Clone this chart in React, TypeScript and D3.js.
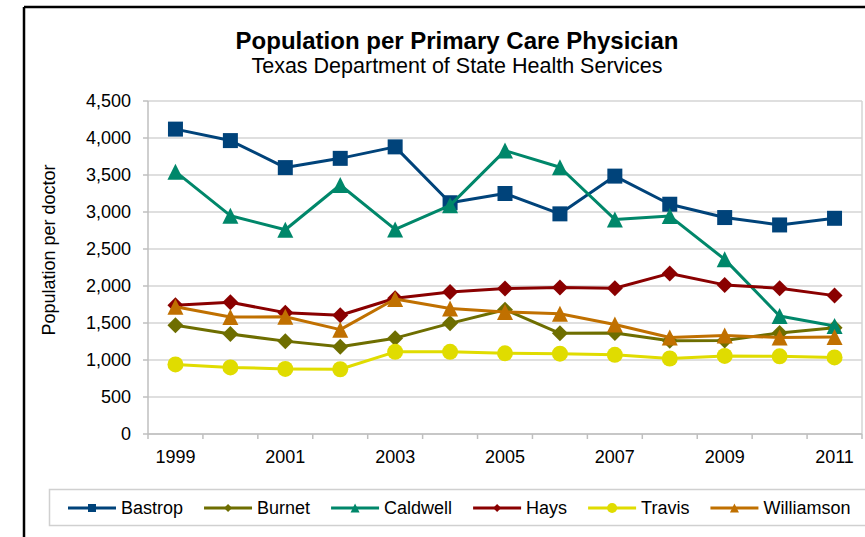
import React, { useMemo } from 'react';
import * as d3 from 'd3';

const years = ['1999', '2000', '2001', '2002', '2003', '2004', '2005', '2006', '2007', '2008', '2009', '2010', '2011'];
const yTicks = [0, 500, 1000, 1500, 2000, 2500, 3000, 3500, 4000, 4500];

const bastrop = [4120, 3965, 3600, 3725, 3880, 3125, 3250, 2975, 3485, 3105, 2925, 2825, 2915];
const burnet = [1470, 1350, 1255, 1180, 1295, 1495, 1680, 1360, 1365, 1260, 1265, 1365, 1435];
const caldwell = [3545, 2950, 2760, 3365, 2765, 3090, 3830, 3605, 2900, 2945, 2360, 1595, 1460];
const hays = [1740, 1780, 1640, 1605, 1835, 1920, 1965, 1980, 1970, 2170, 2015, 1970, 1870];
const travis = [940, 900, 880, 875, 1110, 1110, 1090, 1085, 1070, 1020, 1055, 1050, 1035];
const williamson = [1720, 1580, 1585, 1410, 1825, 1695, 1650, 1625, 1480, 1305, 1330, 1305, 1310];

type Shape = 'square' | 'diamond' | 'triangle' | 'circle';

const series: { name: string; values: number[]; color: string; shape: Shape }[] = [
  { name: 'Bastrop', values: bastrop, color: '#00437a', shape: 'square' },
  { name: 'Burnet', values: burnet, color: '#6e6e00', shape: 'diamond' },
  { name: 'Caldwell', values: caldwell, color: '#00876a', shape: 'triangle' },
  { name: 'Hays', values: hays, color: '#8a0000', shape: 'diamond' },
  { name: 'Travis', values: travis, color: '#e0dc00', shape: 'circle' },
  { name: 'Williamson', values: williamson, color: '#c07000', shape: 'triangle' }
];

const FONT = '"Liberation Sans", Arial, sans-serif';

// marker path centred on 0,0 (s = full size)
const markerPath = (shape: Shape, s: number) => {
  const h = s / 2;
  if (shape === 'square') return `M${-h},${-h}H${h}V${h}H${-h}Z`;
  if (shape === 'diamond') return `M0,${-h}L${h},0L0,${h}L${-h},0Z`;
  if (shape === 'triangle') return `M0,${-h}L${h},${h}L${-h},${h}Z`;
  const p = d3.path();
  p.arc(0, 0, h, 0, Math.PI * 2);
  return p.toString();
};

const markerSize: Record<Shape, number> = { square: 15, diamond: 16, triangle: 16, circle: 16 };
const legendMarkerSize: Record<Shape, number> = { square: 8, diamond: 8, triangle: 9, circle: 10 };

const App: React.FC = () => {
  const width = 865;
  const height = 537;
  const plot = { left: 148, right: 862, top: 101, bottom: 434 };

  const x = d3.scaleBand<string>().domain(years).range([plot.left, plot.right]);
  const y = d3.scaleLinear().domain([0, 4500]).range([plot.bottom, plot.top]);
  const cx = (yr: string) => (x(yr) as number) + x.bandwidth() / 2;

  const fmt = d3.format(',');

  const line = d3
    .line<number>()
    .x((_, i) => cx(years[i]))
    .y(d => y(d));

  // legend layout from measured text widths
  const legendItems = useMemo(() => {
    const ctx = document.createElement('canvas').getContext('2d');
    let pos = 68;
    return series.map(s => {
      let w = s.name.length * 9;
      if (ctx) {
        ctx.font = `18px ${FONT}`;
        w = ctx.measureText(s.name).width;
      }
      const item = { ...s, x: pos };
      pos += 48 + 5 + w + 21;
      return item;
    });
  }, []);

  return (
    <svg
      width={width}
      height={height}
      style={{ position: 'absolute', left: 0, top: 0, background: '#fff' }}
      fontFamily={FONT}
    >
      {/* outer frame */}
      <line x1={24} y1={7} x2={width} y2={7} stroke="#000" strokeWidth={2.5} />
      <line x1={24} y1={7} x2={24} y2={height} stroke="#000" strokeWidth={2.5} />

      {/* titles */}
      <text x={457} y={49} textAnchor="middle" fontSize={24} fontWeight="bold" fill="#000">
        Population per Primary Care Physician
      </text>
      <text x={457} y={73} textAnchor="middle" fontSize={21.5} fill="#000">
        Texas Department of State Health Services
      </text>

      {/* gridlines */}
      {yTicks.map(t => (
        <line key={t} x1={plot.left} x2={plot.right} y1={y(t)} y2={y(t)} stroke="#d4d4d4" strokeWidth={1.5} />
      ))}
      <line x1={plot.right} x2={plot.right} y1={plot.top} y2={plot.bottom} stroke="#d4d4d4" strokeWidth={1.5} />

      {/* y axis */}
      <line x1={plot.left} x2={plot.left} y1={plot.top} y2={plot.bottom} stroke="#bfbfbf" strokeWidth={1.5} />
      {yTicks.map(t => (
        <g key={t}>
          <line x1={plot.left - 5} x2={plot.left} y1={y(t)} y2={y(t)} stroke="#bfbfbf" strokeWidth={1.5} />
          <text x={131} y={y(t)} dy="0.35em" textAnchor="end" fontSize={18} fill="#000">
            {fmt(t)}
          </text>
        </g>
      ))}
      <text
        transform={`translate(49,250) rotate(-90)`}
        textAnchor="middle"
        dy="0.35em"
        fontSize={18}
        fill="#000"
      >
        Population per doctor
      </text>

      {/* x axis */}
      <line x1={plot.left} x2={plot.right} y1={plot.bottom} y2={plot.bottom} stroke="#bfbfbf" strokeWidth={1.5} />
      {years.map(yr => (
        <line
          key={yr}
          x1={x(yr) as number}
          x2={x(yr) as number}
          y1={plot.bottom}
          y2={plot.bottom + 5}
          stroke="#bfbfbf"
          strokeWidth={1.5}
        />
      ))}
      <line x1={plot.right} x2={plot.right} y1={plot.bottom} y2={plot.bottom + 5} stroke="#bfbfbf" strokeWidth={1.5} />
      {years.map((yr, i) =>
        i % 2 === 0 ? (
          <text key={yr} x={cx(yr)} y={463} textAnchor="middle" fontSize={18} fill="#000">
            {yr}
          </text>
        ) : null
      )}

      {/* series */}
      {series.map(s => (
        <g key={s.name}>
          <path d={line(s.values) || ''} fill="none" stroke={s.color} strokeWidth={3} strokeLinejoin="round" />
          {s.values.map((v, i) => (
            <path
              key={i}
              d={markerPath(s.shape, markerSize[s.shape])}
              transform={`translate(${cx(years[i])},${y(v)})`}
              fill={s.color}
            />
          ))}
        </g>
      ))}

      {/* legend */}
      <rect x={49.5} y={489.5} width={830} height={36} fill="#fff" stroke="#d0d0d0" strokeWidth={1.5} />
      {legendItems.map(item => (
        <g key={item.name} transform={`translate(${item.x},508)`}>
          <line x1={0} x2={48} y1={0} y2={0} stroke={item.color} strokeWidth={3} />
          <path
            d={markerPath(item.shape, legendMarkerSize[item.shape])}
            transform="translate(24,0)"
            fill={item.color}
          />
          <text x={53} y={0} dy="0.35em" fontSize={18} fill="#000">
            {item.name}
          </text>
        </g>
      ))}
    </svg>
  );
};

export default App;
